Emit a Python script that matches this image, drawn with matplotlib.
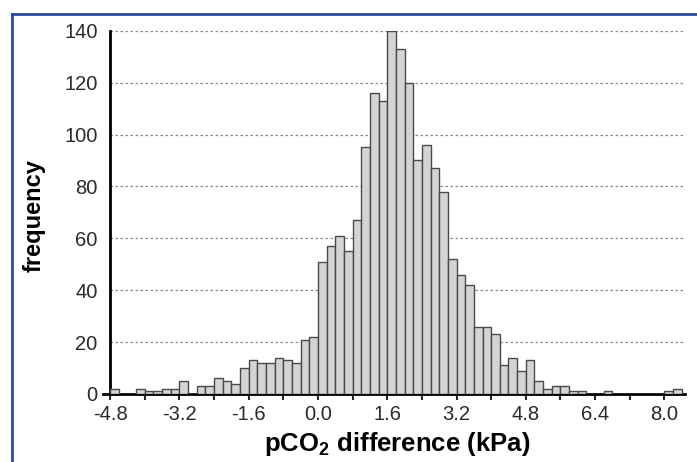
import matplotlib
matplotlib.use('Agg')
import matplotlib.pyplot as plt
from matplotlib.lines import Line2D
import numpy as np

plt.rcParams['font.family'] = ['Liberation Sans', 'DejaVu Sans']
plt.rcParams['mathtext.fontset'] = 'custom'
plt.rcParams['mathtext.rm'] = 'Liberation Sans'
plt.rcParams['mathtext.bf'] = 'Liberation Sans:bold'

# histogram: bins of 0.2 kPa starting at -4.8
bin_start = -4.8
bin_width = 0.2
counts = [2, 0, 0, 2, 1, 1, 2, 2, 5, 0,
          3, 3, 6, 5, 4, 10, 13, 12, 12, 14,
          13, 12, 21, 22, 51, 57, 61, 55, 67, 95,
          116, 113, 140, 133, 120, 90, 96, 87, 78, 52,
          46, 42, 26, 26, 23, 11, 14, 9, 13, 5,
          2, 3, 3, 1, 1, 0, 0, 1, 0, 0,
          0, 0, 0, 0, 1, 2]
x_labels = [-4.8, -3.2, -1.6, 0.0, 1.6, 3.2, 4.8, 6.4, 8.0]
y_ticks = [0, 20, 40, 60, 80, 100, 120, 140]

edges = bin_start + bin_width * np.arange(len(counts))

fig = plt.figure(figsize=(6.97, 4.62), dpi=100)
ax = fig.add_axes([0.158, 0.1472, 0.825, 0.7863])

ax.bar(edges, counts, width=bin_width, align='edge',
       color='#d4d4d4', edgecolor='#4a4a4a', linewidth=1.0, zorder=3)

ax.set_xlim(-4.8, 8.48)
ax.set_ylim(0, 140)
ax.set_xticks(x_labels)
ax.set_xticklabels(['%.1f' % v for v in x_labels])
ax.set_xticks(np.array(x_labels[:-1]) + 0.8, minor=True)
ax.set_yticks(y_ticks)

ax.yaxis.grid(True, linestyle=(0, (2, 2)), color='#888888', linewidth=0.9, zorder=0)
ax.set_axisbelow(True)

for s in ['top', 'right']:
    ax.spines[s].set_visible(False)
ax.spines['left'].set_linewidth(2)
ax.spines['bottom'].set_linewidth(2)
ax.spines['bottom'].set_bounds(-4.97, 8.48)

ax.tick_params(axis='x', which='both', direction='out', length=4, width=1.5,
               labelsize=14.5, pad=4, colors='#2a2a2a')
ax.tick_params(axis='y', length=0, labelsize=14.5, pad=9, colors='#2a2a2a')

ax.set_xlabel(r'pCO$_\mathbf{2}$ difference (kPa)', fontsize=18.5,
              fontweight='bold', labelpad=4)
ax.set_ylabel('frequency', fontsize=17, fontweight='bold', labelpad=12)
ax.yaxis.set_label_coords(-0.1125, 0.49)

# blue frame of the source figure
frame = '#2a4a9c'
fig.add_artist(Line2D([12 / 697, 12 / 697], [0, 1 - 14 / 462],
                      transform=fig.transFigure, color=frame, linewidth=2))
fig.add_artist(Line2D([12 / 697, 1], [1 - 14 / 462, 1 - 14 / 462],
                      transform=fig.transFigure, color=frame, linewidth=2))

fig.savefig('out.png', dpi=100)
